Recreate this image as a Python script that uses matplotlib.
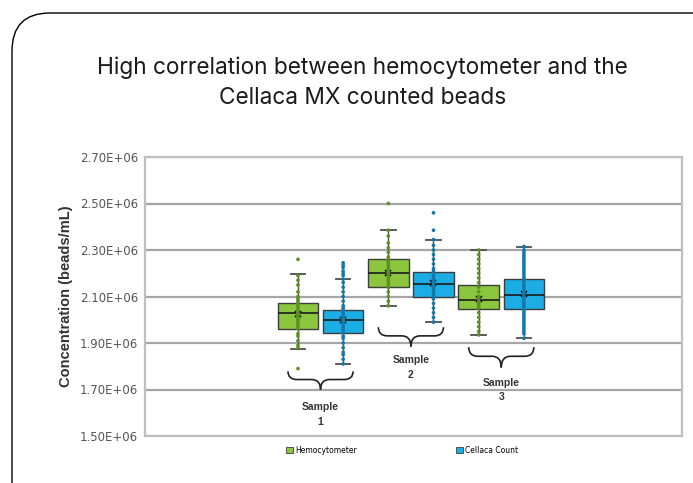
import matplotlib.pyplot as plt
import numpy as np
from matplotlib.patches import FancyBboxPatch, Patch
from matplotlib.path import Path
from matplotlib.patches import PathPatch
from matplotlib.ticker import FuncFormatter

# values in beads/mL (millions)
samples = ["Sample\n1", "Sample\n2", "Sample\n3"]
series = ["Hemocytometer", "Cellaca Count"]

hemo_q1 = [1.962, 2.143, 2.045]
hemo_med = [2.027, 2.203, 2.087]
hemo_q3 = [2.070, 2.260, 2.148]
hemo_lo = [1.875, 2.060, 1.935]
hemo_hi = [2.195, 2.385, 2.300]
hemo_mean = [2.025, 2.200, 2.090]

cell_q1 = [1.945, 2.100, 2.045]
cell_med = [2.000, 2.153, 2.105]
cell_q3 = [2.040, 2.205, 2.175]
cell_lo = [1.810, 1.990, 1.920]
cell_hi = [2.175, 2.345, 2.315]
cell_mean = [1.998, 2.158, 2.110]

hemo_pts = [
    [2.26, 2.19, 2.17, 2.15, 2.12, 2.10, 2.09, 2.08, 2.07, 2.06, 2.05, 2.04, 2.03, 2.03,
     2.02, 2.02, 2.01, 2.00, 1.99, 1.98, 1.97, 1.96, 1.94, 1.93, 1.91, 1.89, 1.88, 1.79],
    [2.50, 2.385, 2.36, 2.33, 2.31, 2.29, 2.27, 2.26, 2.25, 2.24, 2.23, 2.22, 2.21, 2.20,
     2.20, 2.19, 2.18, 2.17, 2.16, 2.15, 2.14, 2.12, 2.10, 2.08, 2.06],
    [2.30, 2.28, 2.26, 2.24, 2.22, 2.20, 2.18, 2.16, 2.14, 2.12, 2.10, 2.09, 2.08, 2.07,
     2.06, 2.05, 2.03, 2.01, 1.99, 1.97, 1.95, 1.935],
]
cell_pts = [
    [2.245, 2.235, 2.225, 2.21, 2.20, 2.19, 2.175, 2.16, 2.14, 2.12, 2.10, 2.08, 2.06, 2.05,
     2.04, 2.03, 2.02, 2.01, 2.005, 2.00, 1.995, 1.99, 1.98, 1.97, 1.96, 1.955, 1.945, 1.93,
     1.92, 1.90, 1.88, 1.86, 1.85, 1.83, 1.81],
    [2.46, 2.385, 2.345, 2.32, 2.30, 2.28, 2.26, 2.24, 2.22, 2.21, 2.20, 2.19, 2.18, 2.17,
     2.16, 2.155, 2.15, 2.14, 2.13, 2.12, 2.11, 2.10, 2.09, 2.07, 2.05, 2.03, 2.01, 1.99],
    [2.315, 2.30, 2.29, 2.28, 2.27, 2.26, 2.25, 2.24, 2.23, 2.22, 2.21, 2.20, 2.19, 2.18,
     2.17, 2.16, 2.15, 2.14, 2.13, 2.12, 2.11, 2.10, 2.09, 2.08, 2.07, 2.06, 2.05, 2.04,
     2.03, 2.02, 2.01, 2.00, 1.99, 1.98, 1.97, 1.96, 1.95, 1.94, 1.92],
]

green = "#8cc63f"
blue = "#1cade4"
green_dot = "#5e8f23"
blue_dot = "#1478a8"

fig = plt.figure(figsize=(6.93, 4.83), dpi=100)

# card frame
card = FancyBboxPatch((12 / 693, -40 / 483), 720 / 693, 510 / 483,
                      boxstyle="round,pad=0,rounding_size=0.055",
                      transform=fig.transFigure, facecolor="white",
                      edgecolor="black", linewidth=1.0, mutation_aspect=693 / 483,
                      zorder=-5)
fig.patches.append(card)

fig.text(0.523, 0.829, "High correlation between hemocytometer and the\nCellaca MX counted beads",
         ha="center", va="center", fontsize=16.3, family="Inter", linespacing=1.5,
         color="#1a1a1a")

ax = fig.add_axes([145 / 693, 1 - 436 / 483, (682 - 145) / 693, (436 - 157) / 483])
ax.set_facecolor("white")


def stats(q1, med, q3, lo, hi, mean, pts):
    out = []
    for i in range(len(q1)):
        fl = [p * 1e6 for p in pts[i] if p > hi[i] + 1e-9 or p < lo[i] - 1e-9]
        out.append(dict(q1=q1[i] * 1e6, med=med[i] * 1e6, q3=q3[i] * 1e6,
                        whislo=lo[i] * 1e6, whishi=hi[i] * 1e6, mean=mean[i] * 1e6,
                        fliers=fl))
    return out


hemo_x = np.arange(len(samples)) * 2
cell_x = hemo_x + 1

for st, pos, fc, dc, pts in [
    (stats(hemo_q1, hemo_med, hemo_q3, hemo_lo, hemo_hi, hemo_mean, hemo_pts), hemo_x, green, green_dot, hemo_pts),
    (stats(cell_q1, cell_med, cell_q3, cell_lo, cell_hi, cell_mean, cell_pts), cell_x, blue, blue_dot, cell_pts),
]:
    ax.bxp(st, positions=pos, widths=0.9, patch_artist=True, showmeans=True,
           showfliers=False, capwidths=0.32,
           boxprops=dict(facecolor=fc, edgecolor="#3d3d3d", linewidth=1.0),
           medianprops=dict(color="#1a1a1a", linewidth=1.2),
           whiskerprops=dict(color="#4d4d4d", linewidth=1.0),
           capprops=dict(color="#4d4d4d", linewidth=1.3),
           meanprops=dict(marker="x", markeredgecolor="#111111", markersize=5, markeredgewidth=1.2),
           zorder=3)
    for p, vals in zip(pos, pts):
        ax.scatter(np.full(len(vals), p), np.array(vals) * 1e6, s=7, color=dc,
                   edgecolors="none", zorder=4)

ax.set_ylim(1.5e6, 2.7e6)
ax.set_yticks(np.arange(1.5e6, 2.71e6, 0.2e6))
ax.yaxis.set_major_formatter(FuncFormatter(lambda v, _: f"{v:.2E}"))
ax.set_xlim(-3.385, 8.5)
ax.set_xticks([])
ax.grid(axis="y", color="#a6a6a6", linewidth=1.6, zorder=0)
ax.set_axisbelow(True)
for s in ax.spines.values():
    s.set_color("#bfbfbf")
    s.set_linewidth(1.6)
ax.tick_params(axis="y", length=0, labelsize=8.5, labelcolor="#555555", pad=5)
ax.set_ylabel("Concentration (beads/mL)", fontsize=10.5, fontweight="bold",
              family="Liberation Sans", color="#333333", labelpad=5)

# braces with sample labels
brace_top = [1.778, 1.968, 1.882]
brace_tip = [1.700, 1.885, 1.795]
label_y = [1.592, 1.795, 1.698]
for i, name in enumerate(samples):
    xc = (hemo_x[i] + cell_x[i]) / 2
    x0, x1 = xc - 0.72, xc + 0.72
    yt, yb = brace_top[i] * 1e6, brace_tip[i] * 1e6
    ym = yt - (yt - yb) * 0.45
    r = 0.2
    verts = [(x0, yt), (x0, ym), (x0 + r, ym), (xc - r, ym), (xc, ym), (xc, yb),
             (xc, ym), (xc + r, ym), (x1 - r, ym), (x1, ym), (x1, yt)]
    codes = [Path.MOVETO, Path.CURVE3, Path.CURVE3, Path.LINETO, Path.CURVE3, Path.CURVE3,
             Path.CURVE3, Path.CURVE3, Path.LINETO, Path.CURVE3, Path.CURVE3]
    ax.add_patch(PathPatch(Path(verts, codes), facecolor="none", edgecolor="#222222",
                           linewidth=1.2, zorder=5))
    ax.text(xc, label_y[i] * 1e6, name, ha="center", va="center", fontsize=7.5,
            family="Liberation Sans", fontweight="bold", color="#333333", linespacing=1.6,
            zorder=5)

handles = [Patch(facecolor=green, edgecolor="#3d3d3d", linewidth=0.6),
           Patch(facecolor=blue, edgecolor="#3d3d3d", linewidth=0.6)]
fig.legend(handles, series, loc="center", bbox_to_anchor=(0.58, 0.068), ncol=2,
           frameon=False, fontsize=5.5, handlelength=0.9, handleheight=0.9,
           handletextpad=0.3, columnspacing=13)

fig.savefig("out.png", dpi=100)
